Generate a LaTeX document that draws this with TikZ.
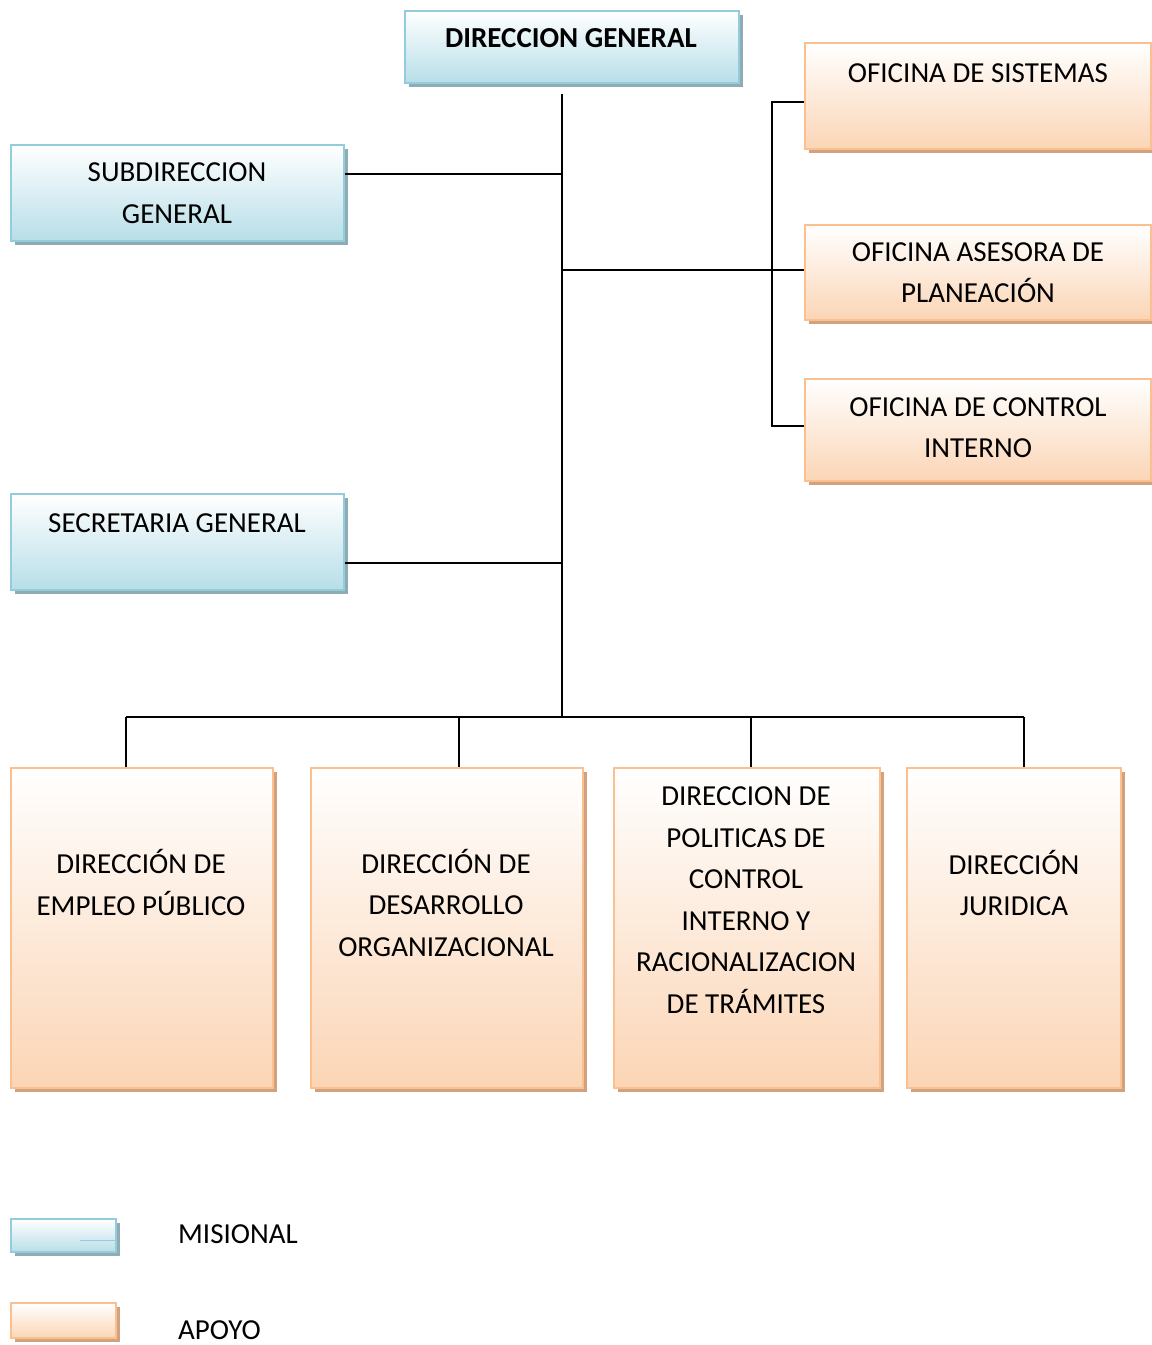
\documentclass[tikz,border=0pt]{standalone}
\usepackage{fontspec}
\setmainfont{Carlito}
\usetikzlibrary{shadows}

\definecolor{blueline}{HTML}{93CDDD}
\definecolor{bluefill}{HTML}{B7DEE8}
\definecolor{blueshade}{HTML}{8FABB3}
\definecolor{orangeline}{HTML}{FAC08F}
\definecolor{orangefill}{HTML}{FBD5B5}
\definecolor{orangeshade}{HTML}{D2A27E}

\tikzset{
  box/.style={rectangle, inner sep=0pt, anchor=north west, line width=2.4pt},
  bluebox/.style={box, draw=blueline, top color=white, bottom color=bluefill,
    general shadow={fill=blueshade, shadow xshift=4pt, shadow yshift=-4pt}},
  orangebox/.style={box, draw=orangeline, top color=white, bottom color=orangefill,
    general shadow={fill=orangeshade, shadow xshift=4pt, shadow yshift=-4pt}},
  label/.style={font=\fontsize{29}{41.5}\selectfont, align=center, inner sep=0pt,
    execute at begin node=\strut, execute at end node=\strut},
  legendtext/.style={font=\fontsize{29}{41.5}\selectfont, inner sep=0pt, anchor=west},
  conn/.style={draw=black, line width=1.8pt}
}

\begin{document}
\begin{tikzpicture}[x=1pt, y=-1pt]
\useasboundingbox (0,0) rectangle (1152,1345);

% boxes
\node[bluebox, minimum width=334pt, minimum height=72pt] (dg) at (404,10) {};
\node[bluebox, minimum width=333pt, minimum height=96pt] (sub) at (10,144) {};
\node[bluebox, minimum width=333pt, minimum height=96pt] (sec) at (10,493) {};
\node[orangebox, minimum width=346pt, minimum height=106pt] (sis) at (804,42) {};
\node[orangebox, minimum width=346pt, minimum height=95pt] (plan) at (804,224) {};
\node[orangebox, minimum width=346pt, minimum height=102pt] (ctrl) at (804,378) {};
\node[orangebox, minimum width=262pt, minimum height=320pt] (b1) at (10,767) {};
\node[orangebox, minimum width=272pt, minimum height=320pt] (b2) at (310,767) {};
\node[orangebox, minimum width=266pt, minimum height=320pt] (b3) at (613,767) {};
\node[orangebox, minimum width=214pt, minimum height=320pt] (b4) at (906,767) {};

% box texts
\node[label, font=\fontsize{29}{41.5}\selectfont\bfseries] (tdg) at (571,39) {DIRECCION GENERAL};
\node[label] (tsub) at (177,199.5) {SUBDIRECCION\\GENERAL};
\node[label] (tsec) at (177,524) {SECRETARIA GENERAL};
\node[label] (tsis) at (978,74) {OFICINA DE SISTEMAS};
\node[label] (tplan) at (978,279) {OFICINA ASESORA DE\\PLANEACIÓN};
\node[label] (tctrl) at (978,434) {OFICINA DE CONTROL\\INTERNO};
\node[label] (tb1) at (141,888.5) {DIRECCIÓN DE\\EMPLEO PÚBLICO};
\node[label] (tb2) at (446,909) {DIRECCIÓN DE\\DESARROLLO\\ORGANIZACIONAL};
\node[label] (tb3) at (746,906.5) {DIRECCION DE\\POLITICAS DE\\CONTROL\\INTERNO Y\\RACIONALIZACION\\DE TRÁMITES};
\node[label] (tb4) at (1014,889) {DIRECCIÓN\\JURIDICA};

% junctions
\coordinate (top) at (562,94);
\coordinate (jsub) at (562,174);
\coordinate (jplan) at (562,270);
\coordinate (jsec) at (562,563);
\coordinate (bus) at (562,717);
\coordinate (rtop) at (772,102);
\coordinate (rbot) at (772,426);
\coordinate (d1) at (126,717);
\coordinate (d2) at (459,717);
\coordinate (d3) at (751,717);
\coordinate (d4) at (1024,717);

% connectors
\draw[conn] (top) -- (bus);
\draw[conn] (sub.east |- jsub) -- (jsub);
\draw[conn] (sec.east |- jsec) -- (jsec);
\draw[conn] (jplan) -- (plan.west |- jplan);
\draw[conn] (sis.west |- rtop) -- (rtop) -- (rbot) -- (ctrl.west |- rbot);
\draw[conn] (d1) -- (d4);
\draw[conn] (d1) -- (d1 |- b1.north);
\draw[conn] (d2) -- (d2 |- b2.north);
\draw[conn] (d3) -- (d3 |- b3.north);
\draw[conn] (d4) -- (d4 |- b4.north);

% legend
\node[bluebox, minimum width=105pt, minimum height=33pt] (lmis) at (10,1218) {};
\draw[blueline, line width=0.8pt] (80,1240) -- (lmis.east |- 0,1240);
\node[orangebox, minimum width=105pt, minimum height=35pt] (lapo) at (10,1302) {};
\node[legendtext] (tmis) at (178,1234) {MISIONAL};
\node[legendtext] (tapo) at (178,1330) {APOYO};
\end{tikzpicture}
\end{document}
